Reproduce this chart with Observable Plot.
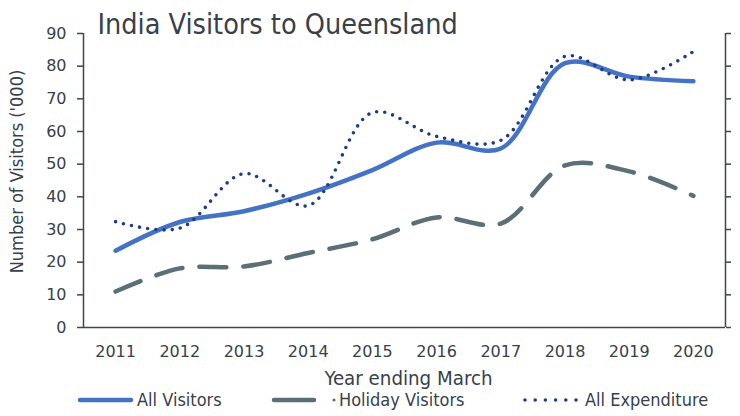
<!DOCTYPE html>
<html><head><meta charset="utf-8">
<script src="https://cdn.jsdelivr.net/npm/d3@7"></script>
<script src="https://cdn.jsdelivr.net/npm/@observablehq/plot@0.6"></script>
<style>
body{margin:0;background:#fff;font-family:"DejaVu Sans Condensed","DejaVu Sans",sans-serif;}
#wrap{position:relative;width:740px;height:416px;overflow:hidden;}
#wrap svg{position:absolute;left:0;top:0;}
</style></head>
<body><div id="wrap"></div>
<script>
const years = [2011, 2012, 2013, 2014, 2015, 2016, 2017, 2018, 2019, 2020];
const allVisitors = [23.5, 32.3, 35.6, 41.0, 48.2, 56.6, 54.8, 80.9, 76.8, 75.4];
const holidayVisitors = [11.0, 18.1, 18.7, 22.8, 27.0, 33.7, 31.8, 49.6, 47.8, 40.3];
const allExpenditure = [32.4, 30.4, 47.1, 37.3, 65.8, 58.5, 57.3, 83.0, 75.8, 84.5];
const seriesNames = ["All Visitors", "Holiday Visitors", "All Expenditure"];
const yTicks = [0, 10, 20, 30, 40, 50, 60, 70, 80, 90];
const titleText = "India Visitors to Queensland";
const yLabel = "Number of Visitors ('000)";
const xLabel = "Year ending March";

const FONT = "DejaVu Sans Condensed, DejaVu Sans, sans-serif";
const TICKFONT = "DejaVu Sans, sans-serif";
const cSolid = "#4472C4", cDash = "#5B6F76", cDot = "#1F3C88", cText = "#37414B", cAxis = "#3F464D";
const toRows = vals => years.map((y, i) => ({year: y, value: vals[i]}));

const chart = Plot.plot({
  width: 740, height: 416,
  marginTop: 33, marginBottom: 89, marginLeft: 83, marginRight: 15,
  style: {fontFamily: TICKFONT, fontSize: "16px", color: cText, background: "transparent"},
  x: {type: "linear", domain: [2010.5, 2020.5]},
  y: {domain: [0, 90]},
  marks: [
    Plot.ruleX([2010.5, 2020.5], {stroke: cAxis, strokeWidth: 1.5}),
    Plot.ruleY([0], {stroke: cAxis, strokeWidth: 1.5}),
    Plot.axisY({anchor: "left", ticks: yTicks, tickSize: 6, tickPadding: 11, stroke: cAxis, fill: cText, fontSize: 16, label: null, strokeWidth: 1.5}),
    Plot.axisY({anchor: "right", ticks: yTicks, tickSize: 5, tickFormat: () => "", stroke: cAxis, label: null, strokeWidth: 1.5}),
    Plot.axisX({ticks: years, tickFormat: d3.format("d"), tickSize: 0, tickPadding: 18, fill: cText, fontSize: 16, label: null}),
    Plot.line(toRows(holidayVisitors), {x: "year", y: "value", curve: "catmull-rom", stroke: cDash, strokeWidth: 4.5, strokeDasharray: "27 17", strokeLinecap: "round"}),
    Plot.line(toRows(allVisitors), {x: "year", y: "value", curve: "catmull-rom", stroke: cSolid, strokeWidth: 4.5, strokeLinecap: "round"}),
    Plot.line(toRows(allExpenditure), {x: "year", y: "value", curve: "catmull-rom", stroke: cDot, strokeWidth: 3.6, strokeDasharray: "0 8.2", strokeLinecap: "round"}),
    Plot.text([titleText], {frameAnchor: "top-left", dx: 14, dy: -9, textAnchor: "start", lineAnchor: "middle", fontSize: 28.5, fontFamily: FONT, fill: cText}),
    Plot.text([yLabel], {frameAnchor: "left", dx: -66, dy: -9, rotate: -90, textAnchor: "middle", lineAnchor: "middle", fontSize: 18, fontFamily: FONT, fill: cText}),
    Plot.text([xLabel], {frameAnchor: "bottom", dx: 4, dy: 51, textAnchor: "middle", lineAnchor: "middle", fontSize: 20.3, fontFamily: FONT, fill: cText})
  ]
});
document.getElementById("wrap").appendChild(chart);

// legend
const lg = d3.select("#wrap").append("svg").attr("width", 740).attr("height", 416)
  .style("pointer-events", "none").attr("font-family", FONT);
const ly = 400;
lg.append("line").attr("x1", 80).attr("x2", 131).attr("y1", ly).attr("y2", ly)
  .attr("stroke", cSolid).attr("stroke-width", 4.5).attr("stroke-linecap", "round");
lg.append("text").attr("x", 137).attr("y", ly).attr("dy", "0.36em").attr("font-size", 18).attr("fill", cText).text(seriesNames[0]);
lg.append("line").attr("x1", 274).attr("x2", 314).attr("y1", ly).attr("y2", ly)
  .attr("stroke", cDash).attr("stroke-width", 4.5).attr("stroke-linecap", "round");
lg.append("circle").attr("cx", 334).attr("cy", ly).attr("r", 1.6).attr("fill", cDash);
lg.append("text").attr("x", 339).attr("y", ly).attr("dy", "0.36em").attr("font-size", 18).attr("fill", cText).text(seriesNames[1]);
lg.append("line").attr("x1", 525).attr("x2", 576).attr("y1", ly).attr("y2", ly)
  .attr("stroke", cDot).attr("stroke-width", 3.6).attr("stroke-dasharray", "0 10.2").attr("stroke-linecap", "round");
lg.append("text").attr("x", 585).attr("y", ly).attr("dy", "0.36em").attr("font-size", 18).attr("fill", cText).text(seriesNames[2]);
</script>
</body></html>
